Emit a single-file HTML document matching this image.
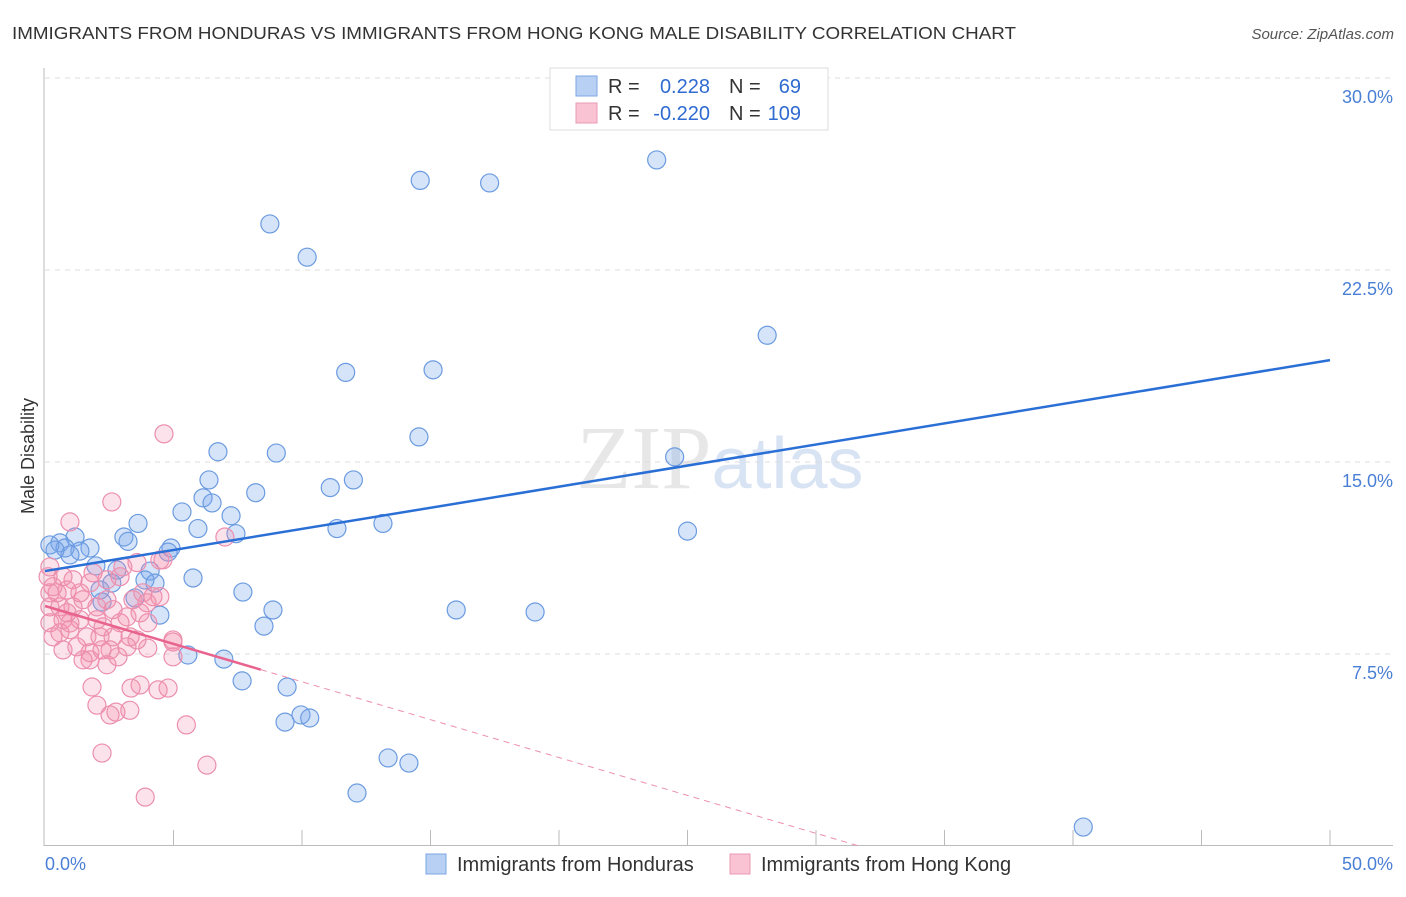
<!DOCTYPE html>
<html><head><meta charset="utf-8"><style>
body{margin:0;background:#fff;font-family:"Liberation Sans",sans-serif;}
</style></head><body>
<svg id="chart" width="1406" height="892" xmlns="http://www.w3.org/2000/svg" font-family="Liberation Sans, sans-serif">
<text x="12" y="39" font-size="17.5" fill="#333" textLength="1004" lengthAdjust="spacingAndGlyphs">IMMIGRANTS FROM HONDURAS VS IMMIGRANTS FROM HONG KONG MALE DISABILITY CORRELATION CHART</text>
<text x="1394" y="39" font-size="15" fill="#555" font-style="italic" text-anchor="end">Source: ZipAtlas.com</text>
<text transform="translate(34,456) rotate(-90)" font-size="18" fill="#333" text-anchor="middle">Male Disability</text>
<text x="720" y="488" font-size="90" fill="#ddd" text-anchor="middle" font-family="Liberation Serif, serif" opacity="0.7">ZIP<tspan fill="#c8d8ee" font-family="Liberation Sans, sans-serif" font-size="72">atlas</tspan></text>
<g id="grid"></g><g id="axes"></g>
<g id="blue"></g><g id="pink"></g><g id="trends"></g>
<g>
<rect x="550" y="68" width="278" height="62" fill="#fff" stroke="#ddd"/>
<rect x="576" y="76" width="21" height="20" fill="#b8d0f4" stroke="#7ea6e6"/>
<rect x="576" y="103" width="21" height="20" fill="#f9c3d3" stroke="#eb98b3"/>
<text x="608" y="93" font-size="20" fill="#333">R =</text>
<text x="710" y="93" font-size="20" fill="#2f6bd0" text-anchor="end">0.228</text>
<text x="729" y="93" font-size="20" fill="#333">N =</text>
<text x="801" y="93" font-size="20" fill="#2f6bd0" text-anchor="end">69</text>
<text x="608" y="120" font-size="20" fill="#333">R =</text>
<text x="710" y="120" font-size="20" fill="#2f6bd0" text-anchor="end">-0.220</text>
<text x="729" y="120" font-size="20" fill="#333">N =</text>
<text x="801" y="120" font-size="20" fill="#2f6bd0" text-anchor="end">109</text>
</g>
<g>
<rect x="426" y="854" width="20" height="20" fill="#b8d0f4" stroke="#7ea6e6"/>
<text x="457" y="871" font-size="20" fill="#333">Immigrants from Honduras</text>
<rect x="730" y="854" width="20" height="20" fill="#f9c3d3" stroke="#eb98b3"/>
<text x="761" y="871" font-size="20" fill="#333">Immigrants from Hong Kong</text>
</g>
</svg>
<script>
const yTicks=[7.5,15,22.5,30];
const yTickLabels=["7.5%","15.0%","22.5%","30.0%"];
const xTickLabels=["0.0%","50.0%"];
const blueX=[14.6,17.3,23.8,8.75,10.2,28.1,11.7,15.1,14.55,24.5,6.73,9.0,6.38,11.1,12.0,8.2,6.15,6.5,5.33,3.62,7.24,13.15,11.36,25.0,5.95,7.43,3.07,3.23,1.17,0.58,0.78,1.75,4.9,4.79,0.19,1.36,1.98,2.8,4.09,2.6,3.89,4.28,5.76,7.7,3.5,2.22,16.0,19.07,8.87,4.47,8.52,5.56,6.96,7.67,9.42,9.96,10.3,9.34,13.35,14.16,12.14,40.4,0.97,0.39,2.14];
const blueY=[26.0,25.9,26.8,24.3,23.0,19.95,18.5,18.6,15.98,15.2,15.4,15.35,14.3,14.0,14.3,13.8,13.6,13.4,13.05,12.6,12.9,12.6,12.4,12.3,12.4,12.2,12.07,11.9,12.07,11.84,11.64,11.64,11.64,11.48,11.76,11.52,10.94,10.78,10.74,10.27,10.39,10.27,10.47,9.92,9.69,9.53,9.22,9.14,9.22,9.02,8.59,7.46,7.3,6.45,6.21,5.12,5.0,4.84,3.44,3.24,2.07,0.74,11.37,11.56,10.0];
const pinkX=[4.63,2.6,0.97,7.0,4.47,1.83,2.02,2.53,2.76,3.3,3.35,3.7,4.4,4.79,5.5,2.22,6.3,3.9,4.98,4.0,0.97,0.70,1.48,1.75,2.41,2.84,3.31,4.0,4.47,4.59,3.58,2.92,2.41,1.75,1.09,0.47,0.19,1.36,2.02,2.65,3.19,3.7,4.2,2.14,2.65,0.58,1.63,1.24,3.19,3.58,4.98,4.98,2.53,2.02,1.09,1.48,0.86,0.31,0.19,0.70,0.97,3.42,3.81,3.03,2.41,1.87,0.70,0.12,0.19,0.58,1.36,2.92,2.26,0.19,0.31,0.86,2.22,1.75,3.97];
const pinkY=[16.1,13.44,12.66,12.07,11.17,6.21,5.5,5.12,5.23,5.3,6.17,6.29,6.1,6.17,4.73,3.63,3.16,1.91,7.97,7.73,8.71,7.66,7.27,7.27,7.08,7.39,8.17,8.72,9.74,11.18,11.07,10.52,9.62,10.28,10.4,9.89,9.34,8.84,8.84,9.23,8.95,9.11,9.74,8.17,8.17,8.33,8.17,7.78,7.78,8.05,8.05,7.39,7.66,9.34,9.34,9.62,10.0,10.13,9.89,8.84,8.45,9.62,9.89,10.9,10.4,10.67,10.52,10.52,10.9,9.34,9.89,8.72,8.56,8.72,8.17,9.11,7.66,7.55,9.5];
const blueTrend=[10.74,18.98];
const pinkTrend=[9.375,-0.296];
const NS="http://www.w3.org/2000/svg";
const xs=v=>45+v*25.7, ys=v=>846-v*25.6;
function mk(t,a,p){const e=document.createElementNS(NS,t);for(const k in a)e.setAttribute(k,a[k]);p.appendChild(e);return e;}
const grid=document.getElementById('grid'),axes=document.getElementById('axes');
yTicks.forEach((t,i)=>{
 const l=mk('line',{x1:45,x2:1393,y1:ys(t),y2:ys(t),stroke:'#ddd','stroke-dasharray':'5,5'},grid);
 
 
 const tx=mk('text',{x:1393,y:ys(t)+25,'font-size':18,fill:'#4a7fd6','text-anchor':'end'},axes);
 tx.textContent=yTickLabels[i];
 
 
});
const yl=mk('line',{x1:44,x2:44,y1:68,y2:846,stroke:'#bbb'},axes);


const xl=mk('line',{x1:44,x2:1393,y1:845.5,y2:845.5,stroke:'#bbb'},axes);


for(let k=1;k<=10;k++){const t=mk('line',{x1:xs(k*5),x2:xs(k*5),y1:830,y2:846,stroke:'#bbb'},axes);
 
 }
[[0,'start',45],[50,'end',1393]].forEach((d,i)=>{const t=mk('text',{x:d[2],y:870,'font-size':18,fill:'#4a7fd6','text-anchor':d[1]},axes);t.textContent=xTickLabels[i];
 
 });
function dots(X,Y,g,fill,stroke,name){X.forEach((x,i)=>{const c=mk('circle',{cx:xs(x),cy:ys(Y[i]),r:9,fill:fill,stroke:stroke,'stroke-width':1.2},g);
 
 });}
dots(blueX,blueY,document.getElementById('blue'),'rgba(120,165,235,0.3)','#6b9be0','honduras-point');
dots(pinkX,pinkY,document.getElementById('pink'),'rgba(242,140,170,0.25)','#ec8fae','hong-kong-point');
const tr=document.getElementById('trends');
const bl=mk('line',{x1:xs(0),y1:ys(blueTrend[0]),x2:xs(50),y2:ys(blueTrend[1]),stroke:'#2a6fd6','stroke-width':2.5},tr);


const pf=x=>pinkTrend[0]+pinkTrend[1]*x;
const ps=mk('line',{x1:xs(0),y1:ys(pf(0)),x2:xs(8.4),y2:ys(pf(8.4)),stroke:'#e8648f','stroke-width':2.5},tr);


const xe=-pinkTrend[0]/pinkTrend[1];
const pd=mk('line',{x1:xs(8.4),y1:ys(pf(8.4)),x2:xs(xe),y2:ys(0),stroke:'#ec8fae','stroke-width':1,'stroke-dasharray':'6,5'},tr);


</script>
</body></html>
